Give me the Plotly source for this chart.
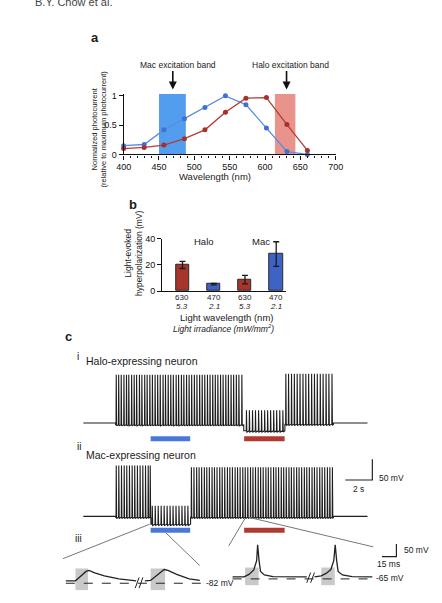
import plotly.graph_objects as go

W, H = 442, 603

def PX(p):
    return p / W

def PY(p):
    return 1 - p / H

# ---------------- Panel a data ----------------
wavelengths = [400, 429, 457, 486, 515, 544, 573, 602, 631, 660]
mac_photocurrent = [0.15, 0.17, 0.42, 0.61, 0.80, 1.00, 0.85, 0.45, 0.05, 0.00]
halo_photocurrent = [0.10, 0.12, 0.16, 0.27, 0.42, 0.72, 0.96, 0.97, 0.51, 0.07]
mac_band = [450, 488]
halo_band = [614, 643]
a_xticks = [400, 450, 500, 550, 600, 650, 700]
a_yticks = [0, 0.5, 1]
a_yticklabels = ["0", "0.5", "1"]

# ---------------- Panel b data ----------------
b_groups = ["Halo", "Halo", "Mac", "Mac"]
b_wavelength = ["630", "470", "630", "470"]
b_irradiance = ["5.3", "2.1", "5.3", "2.1"]
b_values = [20.0, 5.4, 8.8, 28.3]
b_errors = [2.7, 0.6, 3.2, 9.4]
b_colors = ["#a8352c", "#3f63c4", "#a8352c", "#3f63c4"]

# ---------------- Panel c data (time in s, membrane potential in mV) ----------------
halo_seg_start = [0.0, 2.4, 11.9, 14.95, 18.55]
halo_seg_end = [2.4, 11.9, 14.95, 18.55, 21.07]
halo_seg_trough = [-65, -69, -84, -68, -65]
halo_seg_peak = [None, 52, -34, 54, None]
halo_spikes = [
    [],
    [2.45, 2.63, 2.82, 3.02, 3.21, 3.38, 3.59, 3.78, 3.96, 4.17, 4.35, 4.56, 4.74, 4.94,
     5.13, 5.33, 5.52, 5.71, 5.92, 6.10, 6.30, 6.49, 6.68, 6.89, 7.07, 7.28, 7.46, 7.66,
     7.85, 8.04, 8.24, 8.43, 8.63, 8.82, 9.01, 9.21, 9.40, 9.60, 9.79, 9.98, 10.18,
     10.37, 10.57, 10.76, 10.96, 11.15, 11.35, 11.54, 11.76],
    [12.10, 12.32, 12.55, 12.77, 13.00, 13.22, 13.45, 13.67, 13.89, 14.12, 14.34, 14.57, 14.80],
    [15.02, 15.22, 15.44, 15.65, 15.86, 16.07, 16.29, 16.50, 16.71, 16.93, 17.14, 17.35,
     17.57, 17.78, 18.00, 18.21, 18.44],
    [],
]
mac_seg_start = [0.0, 2.4, 5.02, 7.96, 18.55]
mac_seg_end = [2.4, 5.02, 7.96, 18.55, 21.07]
mac_seg_trough = [-65, -67, -84, -67, -65]
mac_seg_peak = [None, 58, -39, 54, None]
mac_spikes = [
    [],
    [2.45, 2.64, 2.84, 3.04, 3.23, 3.43, 3.63, 3.82, 4.02, 4.22, 4.42, 4.62, 4.82, 4.97],
    [5.12, 5.34, 5.56, 5.78, 6.00, 6.22, 6.44, 6.66, 6.88, 7.10, 7.32, 7.54, 7.76],
    [8.02, 8.21, 8.41, 8.59, 8.78, 8.98, 9.16, 9.35, 9.55, 9.73, 9.92, 10.12, 10.30, 10.49,
     10.69, 10.87, 11.06, 11.26, 11.44, 11.63, 11.83, 12.01, 12.20, 12.40, 12.58, 12.77,
     12.97, 13.15, 13.34, 13.54, 13.72, 13.91, 14.11, 14.29, 14.48, 14.68, 14.86, 15.05,
     15.25, 15.43, 15.62, 15.82, 16.00, 16.19, 16.39, 16.57, 16.76, 16.96, 17.14, 17.33,
     17.53, 17.71, 17.90, 18.10, 18.28, 18.47],
    [],
]
light_blue_period = [5.0, 7.93]
light_red_period = [11.93, 14.93]

# Inset iii (display time in ms, mV)
mac_inset_a_t = [5, 15, 18, 22, 26, 29, 35, 45, 60, 78]
mac_inset_a_v = [-72.4, -72.4, -62.7, -49.3, -35.8, -32.0, -41.6, -53.2, -64.7, -72.4]
mac_inset_b_t = [87, 93, 97, 102, 107, 111, 120, 133, 144]
mac_inset_b_v = [-72.4, -70.5, -58.9, -43.5, -28.2, -32.0, -47.4, -64.7, -70.5]
halo_inset_a_t = [178, 190, 195, 200, 203, 204, 205.5, 207, 211, 220, 255]
halo_inset_a_v = [-57, -57, -47.4, -30.1, 6.5, 68, 6.5, -35.8, -49.3, -56.2, -57]
halo_inset_b_t = [263, 270, 275, 280, 283, 284.5, 286, 287.5, 292, 302, 323]
halo_inset_b_v = [-57, -53.2, -43.5, -28.2, 6.5, 68, 6.5, -35.8, -49.3, -56.2, -57]
mac_rest_mV = -82
halo_rest_mV = -65
gray_boxes_t = [[15, 28], [93, 108], [191, 205], [270, 284]]
gray_boxes_v = [[-108.9, -24.3], [-108.9, -24.3], [-89.7, -20.5], [-89.7, -20.5]]


def build_trace(starts, ends, troughs, peaks, spikes):
    xs, ys = [], []
    for s, e, tr, pk, sp in zip(starts, ends, troughs, peaks, spikes):
        xs.append(s)
        ys.append(tr)
        for t in sp:
            xs += [t - 0.015, t, t + 0.03]
            ys += [tr, pk, tr - 3]
        xs.append(e)
        ys.append(tr)
    return xs, ys


fig = go.Figure()
BLACK = "#1a1a1a"

# ---- panel a ----
fig.add_trace(go.Scatter(x=wavelengths, y=mac_photocurrent, mode="lines+markers",
                         line=dict(color="#5a8ee0", width=1.3),
                         marker=dict(color="#3f72d0", size=5),
                         cliponaxis=False, xaxis="x", yaxis="y", showlegend=False))
fig.add_trace(go.Scatter(x=wavelengths, y=halo_photocurrent, mode="lines+markers",
                         line=dict(color="#b53c36", width=1.3),
                         marker=dict(color="#a8302b", size=5),
                         cliponaxis=False, xaxis="x", yaxis="y", showlegend=False))

# ---- panel b ----
fig.add_trace(go.Bar(x=[0, 1, 2, 3], y=b_values, width=0.43,
                     marker=dict(color=b_colors, line=dict(color="#2a2a2a", width=1)),
                     error_y=dict(type="data", array=b_errors, color=BLACK, thickness=1.3, width=3),
                     xaxis="x2", yaxis="y2", showlegend=False))

# ---- panel c traces ----
hx, hy = build_trace(halo_seg_start, halo_seg_end, halo_seg_trough, halo_seg_peak, halo_spikes)
fig.add_trace(go.Scatter(x=hx, y=hy, mode="lines", line=dict(color="#1e1e1e", width=1.1),
                         xaxis="x3", yaxis="y3", showlegend=False, hoverinfo="skip"))
mx, my = build_trace(mac_seg_start, mac_seg_end, mac_seg_trough, mac_seg_peak, mac_spikes)
fig.add_trace(go.Scatter(x=mx, y=my, mode="lines", line=dict(color="#1e1e1e", width=1.1),
                         xaxis="x4", yaxis="y4", showlegend=False, hoverinfo="skip"))

for ax, lvl in (("3", -103.1), ("4", -98.3)):
    fig.add_trace(go.Scatter(x=light_blue_period, y=[lvl, lvl], mode="lines",
                             line=dict(color="#4a78d8", width=5),
                             xaxis="x" + ax, yaxis="y" + ax, showlegend=False))
    fig.add_trace(go.Scatter(x=light_red_period, y=[lvl, lvl], mode="lines",
                             line=dict(color="#b03a30", width=5),
                             xaxis="x" + ax, yaxis="y" + ax, showlegend=False))

fig.add_trace(go.Scatter(x=[19.43, 21.43, 21.43], y=[23.1, 23.1, 73.1], mode="lines",
                         line=dict(color="#222", width=1.2), xaxis="x4", yaxis="y4",
                         showlegend=False))

# ---- inset iii ----
for (t0, t1), (v0, v1) in zip(gray_boxes_t, gray_boxes_v):
    fig.add_trace(go.Scatter(x=[t0, t1, t1, t0, t0], y=[v0, v0, v1, v1, v0], mode="lines",
                             fill="toself", fillcolor="rgba(165,165,165,0.6)",
                             line=dict(width=0), xaxis="x5", yaxis="y5", showlegend=False))
fig.add_trace(go.Scatter(x=[5, 145], y=[mac_rest_mV, mac_rest_mV], mode="lines",
                         line=dict(color="#222", width=1, dash="dash"),
                         xaxis="x5", yaxis="y5", showlegend=False))
fig.add_trace(go.Scatter(x=[178, 323], y=[halo_rest_mV, halo_rest_mV], mode="lines",
                         line=dict(color="#222", width=1, dash="dash"),
                         xaxis="x5", yaxis="y5", showlegend=False))
for tt, vv in ((mac_inset_a_t, mac_inset_a_v), (mac_inset_b_t, mac_inset_b_v),
               (halo_inset_a_t, halo_inset_a_v), (halo_inset_b_t, halo_inset_b_v)):
    fig.add_trace(go.Scatter(x=tt, y=vv, mode="lines", line=dict(color="#222", width=1.3),
                             xaxis="x5", yaxis="y5", showlegend=False))
for t0 in (77, 81, 255, 259):
    vlo, vhi = (-101, -59) if t0 < 150 else (-80, -40)
    fig.add_trace(go.Scatter(x=[t0, t0 + 4], y=[vlo, vhi], mode="lines",
                             line=dict(color="#222", width=1),
                             xaxis="x5", yaxis="y5", showlegend=False))
fig.add_trace(go.Scatter(x=[333, 348, 348], y=[21.8, 21.8, 71.8], mode="lines",
                         line=dict(color="#222", width=1.2), xaxis="x5", yaxis="y5",
                         showlegend=False))

shapes = []
shapes.append(dict(type="rect", xref="x", yref="y", x0=mac_band[0], x1=mac_band[1], y0=0, y1=1.03,
                   fillcolor="rgba(52,140,235,0.85)", line=dict(width=0), layer="below"))
shapes.append(dict(type="rect", xref="x", yref="y", x0=halo_band[0], x1=halo_band[1], y0=0, y1=1.03,
                   fillcolor="rgba(226,120,110,0.8)", line=dict(width=0), layer="below"))
for (x0, y0, x1, y1) in ((147, 528, 57, 563), (164, 537, 199, 570),
                         (246, 522, 229, 550), (250, 521, 379, 551)):
    shapes.append(dict(type="line", xref="paper", yref="paper", x0=PX(x0), y0=PY(y0),
                       x1=PX(x1), y1=PY(y1), line=dict(color="#777", width=1)))

F = "Arial, Liberation Sans, sans-serif"
ann = []

def txt(x, y, s, size=9, xanchor="center", yanchor="middle", bold=False, italic=False,
        angle=0, color="#1a1a1a"):
    if bold:
        s = "<b>" + s + "</b>"
    if italic:
        s = "<i>" + s + "</i>"
    ann.append(dict(x=PX(x), y=PY(y), xref="paper", yref="paper", text=s, showarrow=False,
                    xanchor=xanchor, yanchor=yanchor, textangle=angle,
                    font=dict(family=F, size=size, color=color)))

txt(26, -3, "B.Y. Chow et al.", size=11, xanchor="left", color="#444")
txt(90, 33, "a", size=13, bold=True)
txt(130, 203, "b", size=13, bold=True)
txt(63, 337, "c", size=13, bold=True)

txt(176, 61, "Mac excitation band", size=8.5)
txt(293, 61, "Halo excitation band", size=8.5)
for xa in (171, 289):
    ann.append(dict(x=PX(xa), y=PY(86), xref="paper", yref="paper", ax=0, ay=-20,
                    text="", showarrow=True, arrowhead=2,
                    arrowsize=1, arrowwidth=1.6, arrowcolor="#111"))
txt(215, 174, "Wavelength (nm)", size=9.5)
txt(95, 126, "Normalized photocurrent<br>(relative to maximum photocurrent)", size=7.5, angle=-90)

xb = lambda i: 181 + 32.5 * i
for i in range(4):
    txt(xb(i), 297, b_wavelength[i], size=8)
    txt(xb(i), 306.5, b_irradiance[i], size=8, italic=True)
txt(203, 240, "Halo", size=9.5)
txt(262, 240, "Mac", size=9.5)
txt(227, 317.5, "Light wavelength (nm)", size=9.5)
txt(224, 328.5, "Light irradiance (mW/mm<sup>2</sup>)", size=8.5, italic=True)
txt(131, 252, "Light-evoked<br>hyperpolarization (mV)", size=8.5, angle=-90)

txt(70, 357, "i", size=10, xanchor="left")
txt(79, 362.5, "Halo-expressing neuron", size=10.5, xanchor="left")
txt(69, 449, "ii", size=10, xanchor="left")
txt(79, 457.5, "Mac-expressing neuron", size=10.5, xanchor="left")
txt(67, 542, "iii", size=10, xanchor="left")
txt(383, 481, "50 mV", size=8.5, xanchor="left")
txt(364, 492, "2 s", size=8.5)
txt(203, 588, "-82 mV", size=8.5, xanchor="left")
txt(380, 583, "-65 mV", size=8.5, xanchor="left")
txt(409, 554, "50 mV", size=8.5, xanchor="left")
txt(395, 568, "15 ms", size=8.5)

axis_common = dict(showgrid=False, zeroline=False, linecolor="#111", linewidth=1.3,
                   tickcolor="#111", tickfont=dict(family=F, size=9, color="#111"))
hidden = dict(visible=False, showgrid=False, zeroline=False)

fig.update_layout(
    width=W, height=H, margin=dict(l=0, r=0, t=0, b=0),
    paper_bgcolor="white", plot_bgcolor="rgba(0,0,0,0)",
    shapes=shapes, annotations=ann, showlegend=False,
    xaxis=dict(domain=[PX(120), PX(340)], range=[400, 700], anchor="y", showline=True,
               ticks="outside", ticklen=4, tickwidth=1.2, tickvals=a_xticks,
               minor=dict(dtick=10, ticks="outside", ticklen=2, tickcolor="#111"),
               **axis_common),
    yaxis=dict(domain=[PY(152), PY(90)], range=[0, 1.04], anchor="x", showline=True,
               ticks="outside", ticklen=4, tickwidth=1.2, tickvals=a_yticks,
               ticktext=a_yticklabels, **axis_common),
    xaxis2=dict(domain=[PX(160), PX(288)], range=[-0.65, 3.3], anchor="y2", showline=True,
                ticks="", showticklabels=False, **axis_common),
    yaxis2=dict(domain=[PY(291), PY(237.7)], range=[0, 40], anchor="x2", showline=True,
                ticks="outside", ticklen=4, tickwidth=1.2, tickvals=[0, 20, 40], **axis_common),
    xaxis3=dict(domain=[PX(78), PX(400)], range=[0, 23.0], anchor="y3", **hidden),
    yaxis3=dict(domain=[PY(445), PY(365)], range=[-112.6, 77.9], anchor="x3", **hidden),
    xaxis4=dict(domain=[PX(78), PX(400)], range=[0, 23.0], anchor="y4", **hidden),
    yaxis4=dict(domain=[PY(540), PY(455)], range=[-112.6, 89.8], anchor="x4", **hidden),
    xaxis5=dict(domain=[PX(55), PX(440)], range=[0, 385], anchor="y5", **hidden),
    yaxis5=dict(domain=[PY(603), PY(540)], range=[-139.7, 102.6], anchor="x5", **hidden),
    bargap=0,
)

fig.write_html("out.html")
